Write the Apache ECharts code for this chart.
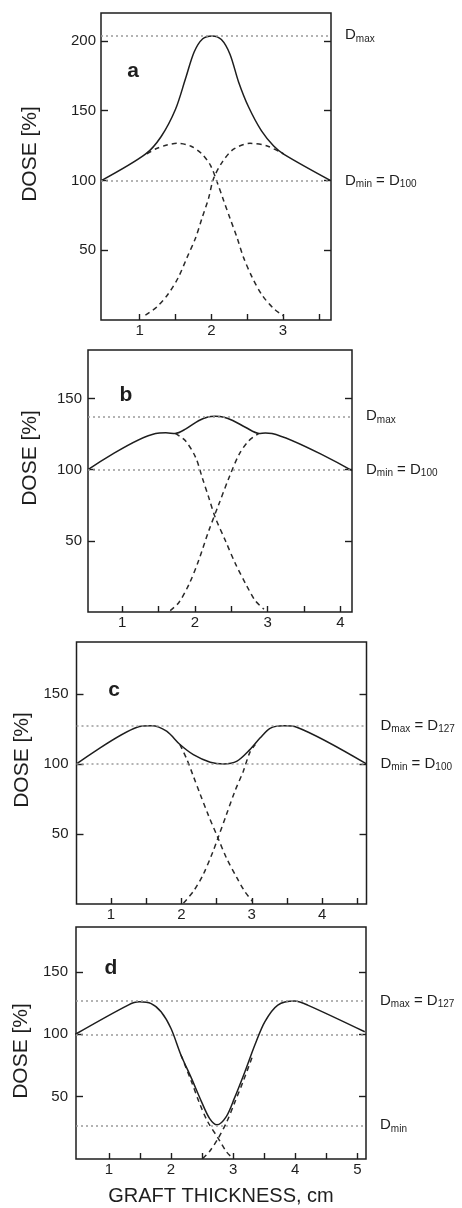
<!DOCTYPE html>
<html>
<head>
<meta charset="utf-8">
<script src="https://cdn.jsdelivr.net/npm/echarts@6/dist/echarts.min.js"></script>
<style>html,body{margin:0;background:#fff}#chart{width:462px;height:1208px}</style>
</head>
<body>
<div id="chart"></div>
<script>
// panel a: two beams, large overlap
const A_SUM = [[0.47, 100], [1.08, 118.8], [1.30, 131.5], [1.50, 151], [1.64, 173], [1.76, 192], [1.88, 201.5], [2.01, 203.6], [2.14, 201], [2.26, 190.5], [2.38, 170.6], [2.52, 152.6], [2.70, 135.5], [2.87, 124.7], [3.02, 118.5], [3.66, 100]];
const A_BEAM1 = [[1.10, 119], [1.22, 122.5], [1.38, 125.4], [1.52, 126.6], [1.71, 124.7], [1.87, 118.9], [1.99, 110.6], [2.08, 98.9], [2.17, 85.9], [2.26, 73], [2.36, 58.8], [2.45, 44.7], [2.57, 30.6], [2.71, 17.7], [2.87, 8.2], [3.01, 2.8]];
const A_BEAM2 = [[1.08, 3.5], [1.24, 9.4], [1.40, 18.8], [1.54, 30.6], [1.66, 44.7], [1.78, 58.8], [1.87, 73], [1.96, 87], [2.03, 101.2], [2.15, 113], [2.31, 122.4], [2.54, 126.6], [2.78, 124.7], [3.01, 118.9]];
const A_LEVELS = [204, 100];
const A_LEVEL_TEXT = ["{d|D}{s|max}", "{d|D}{s|min}{d| = D}{s|100}"];

// panel b
const B_SUM = [[0.53, 100], [1.46, 125.4], [1.60, 125.8], [1.73, 125.4], [1.87, 128.4], [2.05, 134.3], [2.18, 137], [2.28, 137.4], [2.40, 136.8], [2.52, 134.5], [2.70, 129.6], [2.88, 125.4], [2.97, 125.7], [3.06, 125.4], [4.16, 99.3]];
const B_BEAM1 = [[1.73, 125.4], [1.87, 120.2], [2.01, 108.6], [2.10, 94.5], [2.19, 80.5], [2.28, 66.4], [2.42, 50], [2.56, 33.6], [2.70, 19.6], [2.83, 7.9], [2.95, 2]];
const B_BEAM2 = [[1.66, 1], [1.78, 6.7], [1.92, 19.6], [2.05, 36], [2.19, 57], [2.33, 75.8], [2.47, 94.5], [2.61, 110.9], [2.74, 120.2], [2.88, 125.4]];
const B_LEVELS = [137.4, 100];
const B_LEVEL_TEXT = ["{d|D}{s|max}", "{d|D}{s|min}{d| = D}{s|100}"];

// panel c
const C_SUM = [[0.51, 100], [1.37, 126.2], [1.58, 127.2], [1.79, 123.3], [1.98, 113.8], [2.17, 106.6], [2.41, 101.2], [2.60, 100], [2.79, 102], [2.97, 110], [3.12, 118.6], [3.26, 125.4], [3.45, 127.2], [3.64, 126.2], [4.63, 100]];
const C_BEAM1 = [[1.98, 113.8], [2.08, 103], [2.17, 91.2], [2.26, 79.3], [2.38, 63.8], [2.52, 47.1], [2.64, 32.9], [2.79, 18.6], [2.90, 9], [3.01, 1.9]];
const C_BEAM2 = [[2.03, 0.7], [2.17, 9], [2.31, 21], [2.45, 37.6], [2.52, 47.1], [2.64, 63.8], [2.76, 80.5], [2.88, 94.8], [2.97, 107.9], [3.05, 113.8]];
const C_LEVELS = [127, 100];
const C_LEVEL_TEXT = ["{d|D}{s|max}{d| = D}{s|127}", "{d|D}{s|min}{d| = D}{s|100}"];

// panel d: beams pulled apart, cold spot in the middle
const D_SUM = [[0.46, 100], [1.31, 123.4], [1.49, 126], [1.68, 124.6], [1.84, 118], [2.00, 104.6], [2.16, 83.4], [2.33, 64.6], [2.49, 46], [2.62, 32.6], [2.74, 27.4], [2.89, 34], [3.02, 48.6], [3.19, 70], [3.35, 91.4], [3.51, 110], [3.72, 123.4], [3.99, 126.6], [4.20, 123.4], [5.12, 102]];
const D_BEAM1 = [[2.16, 83.4], [2.33, 62], [2.46, 44.6], [2.59, 30], [2.76, 16.6], [2.89, 6], [3.0, 0.3]];
const D_BEAM2 = [[2.51, 0.3], [2.62, 6], [2.76, 16.6], [2.90, 30], [3.02, 44.6], [3.16, 62], [3.32, 83.4]];
const D_LEVELS = [126.5, 100, 27];
const D_LEVEL_TEXT = ["{d|D}{s|max}{d| = D}{s|127}", "", "{d|D}{s|min}"];

const Y_TICKS_A = [50, 100, 150, 200];
const Y_TICKS = [50, 100, 150];
const X_TICKS_A = [1, 1.5, 2, 2.5, 3, 3.5];
const X_TICKS_B = [1, 1.5, 2, 2.5, 3, 3.5, 4];
const X_TICKS_C = [1, 1.5, 2, 2.5, 3, 3.5, 4, 4.5];
const X_TICKS_D = [1, 1.5, 2, 2.5, 3, 3.5, 4, 4.5, 5];
const X_LABELS_A = [1, 2, 3];
const X_LABELS_B = [1, 2, 3, 4];
const X_LABELS_D = [1, 2, 3, 4, 5];
const LETTERS = ["a", "b", "c", "d"];
const Y_NAME = "DOSE [%]";
const X_NAME = "GRAFT THICKNESS, cm";

const FONT = "Liberation Sans, Arial, Helvetica, sans-serif";
const INK = "#1e1e1e";

const panels = [
  { sum: A_SUM, beams: [A_BEAM1, A_BEAM2], levels: A_LEVELS, levelText: A_LEVEL_TEXT, yTicks: Y_TICKS_A, xTicks: X_TICKS_A, xLabels: X_LABELS_A,
    box: { left: 101, top: 13, width: 230, height: 307 }, x: [0.46, 3.67], yMax: 220, yGap: 5, name: [30, 154], letter: [133, 71] },
  { sum: B_SUM, beams: [B_BEAM1, B_BEAM2], levels: B_LEVELS, levelText: B_LEVEL_TEXT, yTicks: Y_TICKS, xTicks: X_TICKS_B, xLabels: X_LABELS_B,
    box: { left: 88, top: 350, width: 264, height: 262 }, x: [0.53, 4.16], yMax: 184, yGap: 6, name: [30, 458], letter: [126, 395] },
  { sum: C_SUM, beams: [C_BEAM1, C_BEAM2], levels: C_LEVELS, levelText: C_LEVEL_TEXT, yTicks: Y_TICKS, xTicks: X_TICKS_C, xLabels: X_LABELS_B,
    box: { left: 76.5, top: 642, width: 290, height: 262 }, x: [0.51, 4.63], yMax: 187, yGap: 8, name: [22, 760], letter: [114, 690] },
  { sum: D_SUM, beams: [D_BEAM1, D_BEAM2], levels: D_LEVELS, levelText: D_LEVEL_TEXT, yTicks: Y_TICKS, xTicks: X_TICKS_D, xLabels: X_LABELS_D,
    box: { left: 76, top: 927, width: 290, height: 232 }, x: [0.47, 5.14], yMax: 186, yGap: 8, name: [21, 1051], letter: [111, 968] },
];

const tickStyle = { show: true, inside: true, length: 7, lineStyle: { color: INK, width: 1.4 } };
const levelLabel = {
  show: true, position: "end", distance: 14,
  rich: {
    d: { fontFamily: FONT, fontSize: 15, color: INK, lineHeight: 17 },
    s: { fontFamily: FONT, fontSize: 10, color: INK, lineHeight: 17, padding: [7, 0, 0, 0] },
  },
};

const grid = [], xAxis = [], yAxis = [], series = [], graphic = [];
panels.forEach((p, i) => {
  grid.push({ ...p.box, show: true, borderColor: INK, borderWidth: 1.5, backgroundColor: "transparent" });
  xAxis.push({
    type: "value", gridIndex: i, min: p.x[0], max: p.x[1],
    axisLine: { show: false }, splitLine: { show: false },
    axisTick: { ...tickStyle, length: 6, customValues: p.xTicks },
    axisLabel: { customValues: p.xLabels, margin: 3, color: INK, fontSize: 15, fontFamily: FONT },
    ...(i === 3 ? { name: X_NAME, nameLocation: "middle", nameGap: 27, nameTextStyle: { color: INK, fontSize: 20, fontFamily: FONT } } : {}),
  });
  const yBase = { type: "value", gridIndex: i, min: 0, max: p.yMax, axisLine: { show: false }, splitLine: { show: false } };
  yAxis.push({ ...yBase, position: "left", axisTick: { ...tickStyle, customValues: p.yTicks },
    axisLabel: { customValues: p.yTicks, margin: p.yGap, color: INK, fontSize: 15, fontFamily: FONT } });
  yAxis.push({ ...yBase, position: "right", axisTick: { ...tickStyle, customValues: p.yTicks }, axisLabel: { show: false } });

  series.push({
    type: "line", xAxisIndex: i, yAxisIndex: 2 * i, data: p.sum, smooth: 0.3, showSymbol: false, z: 3,
    lineStyle: { color: INK, width: 1.5 },
    markLine: {
      silent: true, symbol: ["none", "none"], animation: false,
      lineStyle: { color: "#9a9a9a", width: 1.5, type: [2, 3] },
      label: levelLabel,
      data: p.levels.map((v, k) => ({ yAxis: v, label: { ...levelLabel, show: p.levelText[k] !== "", formatter: p.levelText[k] } })),
    },
  });
  p.beams.forEach((beam) => series.push({
    type: "line", xAxisIndex: i, yAxisIndex: 2 * i, data: beam, smooth: 0.3, showSymbol: false, z: 2,
    lineStyle: { color: "#2a2a2a", width: 1.5, type: [5, 4] },
  }));

  graphic.push({ type: "text", x: p.name[0], y: p.name[1], rotation: Math.PI / 2,
    style: { text: Y_NAME, fill: INK, font: `21px ${FONT}`, textAlign: "center", textVerticalAlign: "middle" } });
  graphic.push({ type: "text", x: p.letter[0], y: p.letter[1],
    style: { text: LETTERS[i], fill: INK, font: `bold 21px ${FONT}`, textAlign: "center", textVerticalAlign: "middle" } });
});

const chart = echarts.init(document.getElementById("chart"), null, { renderer: "canvas" });
chart.setOption({ animation: false, backgroundColor: "#fff", grid, xAxis, yAxis, series, graphic });
</script>
</body>
</html>
